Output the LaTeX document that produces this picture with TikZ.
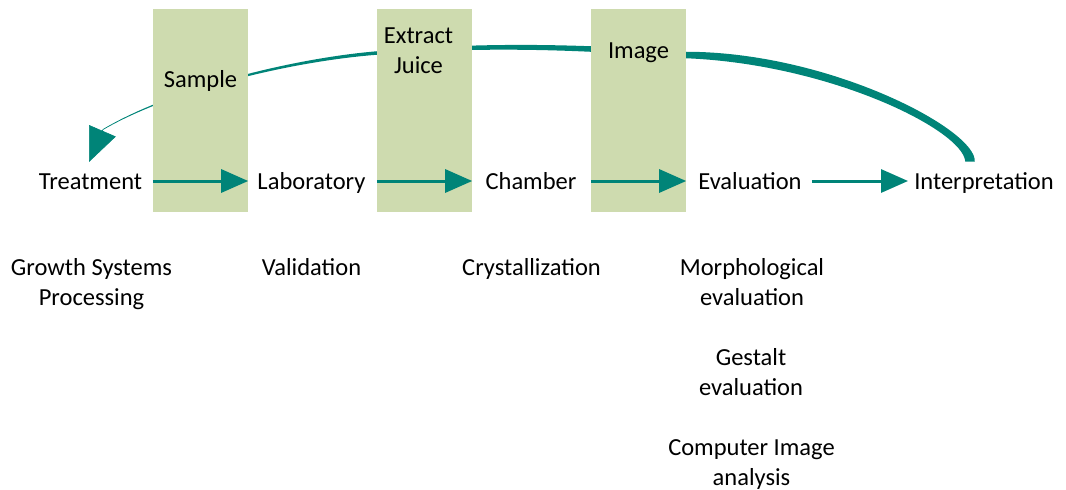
\documentclass[tikz,border=0pt]{standalone}
\usepackage{fontspec}
\setmainfont{Carlito}
\usetikzlibrary{arrows.meta}
\definecolor{teal1}{RGB}{0,132,120}
\definecolor{boxgreen}{RGB}{206,219,175}
\begin{document}
\begin{tikzpicture}[x=1pt,y=-1pt,
  lbl/.style={font=\fontsize{24.5}{30}\selectfont, inner sep=0pt, anchor=base},
  mlbl/.style={lbl, align=center},
  rowlbl/.style={lbl, text height=17pt, text depth=1pt},
  stagebox/.style={fill=boxgreen, draw=none, minimum width=95pt, minimum height=203pt, inner sep=0pt},
  flow/.style={draw=teal1, line width=3pt, -{Triangle[length=27pt,width=23pt]}},
  returntip/.style={draw=teal1, fill=teal1, line width=0.6pt, -{Triangle[length=34pt,width=29pt]}},
  taper/.style={fill=teal1, draw=none},
]
\useasboundingbox (0,0) rectangle (1066,490);

% tapered return curve (drawn first, boxes cover it)
\coordinate (cend) at (103,129.5);
\coordinate (ctip) at (89,162);
\fill[taper]
  (974.75,161.5) .. controls (977,130) and (830.1,52) .. (686.07,51.75)
  .. controls (583,43.75) and (479.8,41.8) .. (376.86,51.26)
  .. controls (289.9,58.6) and (169.64,89.4) .. (102.82,129.2)
  -- (103.18,129.8)
  .. controls (170.36,90.6) and (290.1,61.4) .. (377.14,54.74)
  .. controls (480.2,46.2) and (583,49.25) .. (685.93,58.25)
  .. controls (829.9,64) and (963,130) .. (965.25,161.5)
  -- cycle;
\draw[returntip] (cend) -- (ctip);

% stage boxes
\node[stagebox] (box1) at (200.5,110.5) {};
\node[stagebox] (box2) at (424.5,110.5) {};
\node[stagebox] (box3) at (638.5,110.5) {};

% box labels
\node[lbl] (sample) at (200.5,87) {Sample};
\node[mlbl] (extract) at (418.5,73) {Extract\\Juice};
\node[lbl] (image) at (638.5,58) {Image};

% main row
\node[rowlbl] (treat) at (90.5,189) {Treatment};
\node[rowlbl] (lab) at (311.5,189) {Laboratory};
\node[rowlbl] (chamber) at (531,189) {Chamber};
\node[rowlbl] (eval) at (750,189) {Evaluation};
\node[rowlbl] (interp) at (984,189) {Interpretation};

\draw[flow] (treat.east -| box1.west) -- (lab.west -| box1.east);
\draw[flow] (lab.east -| box2.west) -- (chamber.west -| box2.east);
\draw[flow] (chamber.east -| box3.west) -- (eval.west -| box3.east);
\draw[flow, shorten <=10pt, shorten >=6pt] (eval.east) -- (interp.west);

% lower labels
\node[mlbl] (growth) at (91.5,305) {Growth Systems\\Processing};
\node[lbl] (valid) at (311.5,275) {Validation};
\node[lbl] (cryst) at (531.5,275) {Crystallization};
\node[mlbl] (morph) at (752,305) {Morphological\\evaluation};
\node[mlbl] (gestalt) at (751,395) {Gestalt\\evaluation};
\node[mlbl] (computer) at (751.5,485) {Computer Image\\analysis};
\end{tikzpicture}
\end{document}
